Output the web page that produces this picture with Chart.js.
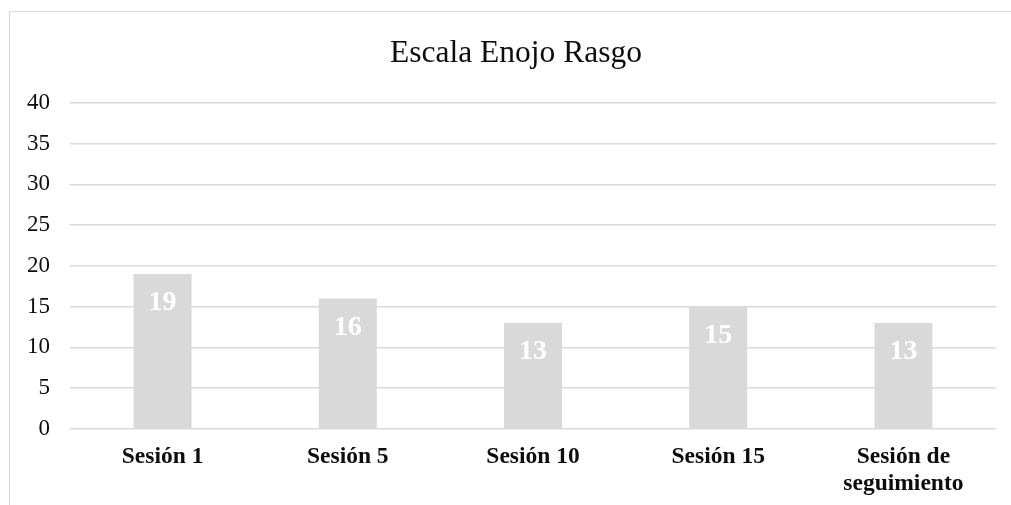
<!DOCTYPE html>
<html>
<head>
<meta charset="utf-8">
<script src="https://cdn.jsdelivr.net/npm/chart.js@4"></script>
<style>
  html, body { margin: 0; padding: 0; background: #fff; }
  #wrap { position: relative; width: 1011px; height: 505px; overflow: hidden; }
  #frame { position: absolute; left: 9px; top: 11px; width: 1100px; height: 600px;
           border-top: 1.5px solid #d9d9d9; border-left: 1.5px solid #d9d9d9; box-sizing: border-box; }
  canvas { position: absolute; left: 0; top: 0; }
</style>
</head>
<body>
<div id="wrap">
  <div id="frame"></div>
  <canvas id="c" width="1011" height="505"></canvas>
</div>
<script>
const categories = ["Sesión 1", "Sesión 5", "Sesión 10", "Sesión 15", ["Sesión de", "seguimiento"]];
const values = [19, 16, 13, 15, 13];
const yTicks = [0, 5, 10, 15, 20, 25, 30, 35, 40];
const titleText = "Escala Enojo Rasgo";

const serif = "'Liberation Serif', 'Times New Roman', serif";

const labelPlugin = {
  id: 'barLabels',
  afterLayout(chart) {
    const t = chart.titleBlock;
    if (t) { t.left = 36; t.right = 996; }
  },
  afterDatasetsDraw(chart) {
    const ctx = chart.ctx;
    const meta = chart.getDatasetMeta(0);
    ctx.save();
    ctx.fillStyle = '#ffffff';
    ctx.font = "bold 28px " + serif;
    ctx.textAlign = 'center';
    ctx.textBaseline = 'middle';
    meta.data.forEach((bar, i) => {
      ctx.fillText(String(values[i]), bar.x, bar.y + 29);
    });
    ctx.restore();
  }
};

new Chart(document.getElementById('c'), {
  type: 'bar',
  data: {
    labels: categories,
    datasets: [{
      data: values,
      backgroundColor: '#d9d9d9',
      borderWidth: 0,
      barPercentage: 0.313,
      categoryPercentage: 1.0
    }]
  },
  options: {
    responsive: false,
    animation: false,
    devicePixelRatio: 1,
    layout: { padding: { left: 0, right: 15, top: 0, bottom: 0 } },
    plugins: {
      legend: { display: false },
      tooltip: { enabled: false },
      title: {
        display: true,
        text: titleText,
        color: '#0d0d0d',
        font: { family: serif, size: 31.5, weight: 'normal', lineHeight: 1.2 },
        padding: { top: 35, bottom: 30 }
      }
    },
    scales: {
      x: {
        grid: { display: false, drawTicks: false },
        border: { display: false },
        ticks: {
          color: '#0d0d0d',
          font: { family: serif, size: 23.5, weight: 'bold', lineHeight: 1.15 },
          padding: 14,
          maxRotation: 0,
          autoSkip: false
        },
        afterFit(scale) { scale.height = 76; }
      },
      y: {
        min: 0,
        max: 40,
        afterBuildTicks(scale) { scale.ticks = yTicks.map(v => ({ value: v })); },
        grid: { color: '#d9d9d9', lineWidth: 1.5, drawTicks: false },
        border: { display: false },
        ticks: {
          color: '#0d0d0d',
          font: { family: serif, size: 23 },
          padding: 20
        },
        afterFit(scale) { scale.width = 70; }
      }
    }
  },
  plugins: [labelPlugin]
});
</script>
</body>
</html>
